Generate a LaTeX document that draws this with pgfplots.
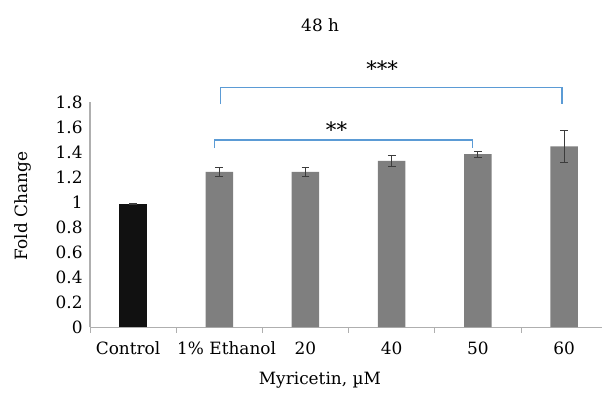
\documentclass[border=0pt]{standalone}
\usepackage{pgfplots}
\pgfplotsset{compat=1.18}
\usepackage{fontspec}
\setmainfont{DejaVu Serif}
\definecolor{barblack}{RGB}{17,17,17}
\definecolor{bargray}{RGB}{127,127,127}
\definecolor{axgray}{RGB}{175,175,175}
\definecolor{errgray}{RGB}{60,60,60}
\definecolor{brblue}{RGB}{91,155,213}
\begin{document}
\fontsize{11.5}{13.8}\selectfont
\begin{tikzpicture}
\path[use as bounding box] (-61.2pt,-47.6pt) rectangle (348.2pt,222.4pt);
\begin{axis}[
  at={(0,0)}, anchor=south west,
  scale only axis, width=348.2pt, height=153pt,
  xmin=-0.5, xmax=5.44, ymin=0, ymax=1.8,
  ybar, bar width=18.7pt,
  axis x line*=bottom, axis y line*=left,
  axis line style={axgray, line width=0.7pt},
  xtick={0,...,5},
  xticklabels={\hspace*{-6.8pt}Control, \hspace*{10pt}1\% Ethanol, 20, 40, 50, 60},
  minor xtick={-0.5,0.5,...,4.5},
  ytick={0,0.2,...,1.8},
  major tick length=0pt, minor tick length=4pt,
  tick align=outside,
  every minor tick/.style={axgray, line width=0.6pt},
  /pgf/number format/assume math mode=true,
  yticklabel style={xshift=-1pt},
  xticklabel style={yshift=-6pt},
  ylabel={Fold Change},
  ylabel style={at={(axis description cs:-0.131,0.538)}, anchor=center},
  xlabel={Myricetin, µM},
  xlabel style={at={(axis description cs:0.449,-0.236)}, anchor=center},
  clip=false,
  error bars/error bar style={errgray, line width=0.7pt},
  error bars/error mark options={errgray, rotate=90, mark size=2.6pt, line width=0.7pt},
]
\addplot[fill=barblack, draw=none, bar shift=0pt,
  error bars/.cd, y dir=both, y explicit]
  coordinates {(0,0.984) +- (0,0.006)};
\addplot[fill=bargray, draw=none, bar shift=0pt,
  error bars/.cd, y dir=both, y explicit]
  coordinates {
    (1,1.242) +- (0,0.036)
    (2,1.242) +- (0,0.037)
    (3,1.330) +- (0,0.045)
    (4,1.384) +- (0,0.024)
    (5,1.445) +- (0,0.127)
  };
\draw[brblue, line width=0.8pt] (axis cs:0.94,1.432) -- (axis cs:0.94,1.496) -- (axis cs:3.94,1.496) -- (axis cs:3.94,1.432);
\draw[brblue, line width=0.8pt] (axis cs:1.016,1.784) -- (axis cs:1.016,1.918) -- (axis cs:4.975,1.918) -- (axis cs:4.975,1.784);
\node[font=\Large] at (axis cs:2.36,1.58) {**};
\node[font=\Large] at (axis cs:2.89,2.07) {***};
\node at (axis cs:2.17,2.416) {48 h};
\end{axis}
\end{tikzpicture}
\end{document}
